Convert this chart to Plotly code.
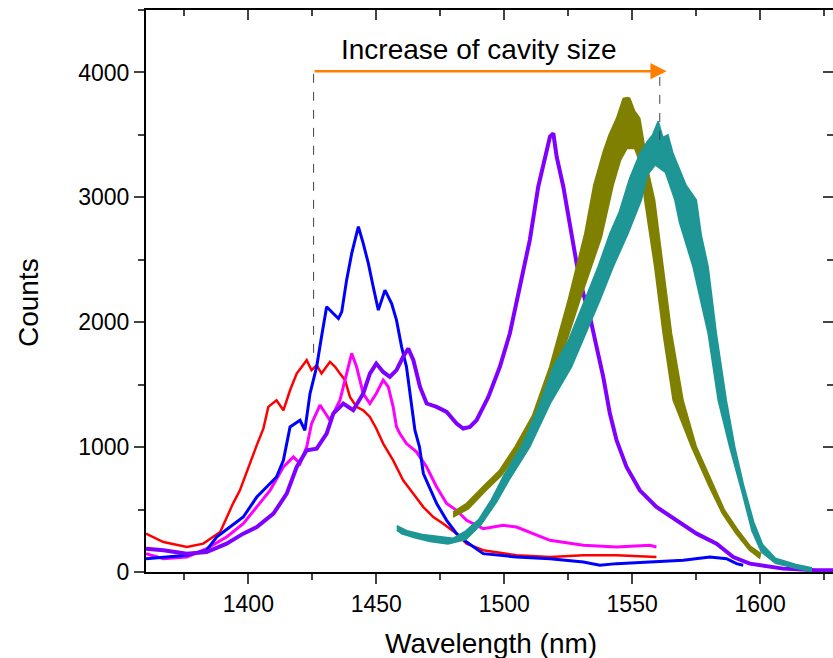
import plotly.graph_objects as go

# ---- data (wavelength nm, counts) ----
red_x = [1360, 1366.8, 1376, 1382.4, 1389, 1394, 1396.7, 1400, 1403, 1405.9, 1407.8, 1411, 1413.7, 1416.3, 1418.9,
         1422.8, 1424.7, 1426.7, 1428.6, 1431.9, 1433.9, 1435.8, 1437.8, 1439.7, 1442.3, 1444.9, 1447.5, 1450, 1452.7,
         1456.6, 1460.5, 1464.5, 1468.4, 1472.3, 1476.2, 1481.4, 1485.3, 1491.8, 1504.8, 1517.9, 1530.9, 1543.9, 1559.5]
red_y = [307, 240, 200, 227, 320, 548, 654, 840, 1000, 1149, 1322, 1375, 1295, 1455, 1589,
         1696, 1616, 1656, 1589, 1683, 1643, 1589, 1536, 1402, 1322, 1295, 1242, 1149, 1028,
         894, 734, 627, 520, 440, 387, 307, 227, 174, 134, 120, 134, 134, 120]

blue_x = [1360, 1366.8, 1376, 1383.7, 1387.6, 1392.8, 1398, 1403.3, 1407.2, 1411, 1413.7, 1416.3, 1420.2, 1422.1,
          1424.1, 1426.7, 1428.6, 1430.6, 1433.2, 1435.2, 1436.5, 1438.4, 1440.4, 1443, 1444.9, 1446.9, 1448.8, 1450.8,
          1453.4, 1456, 1457.9, 1459.9, 1461.8, 1463.8, 1465.1, 1466.9, 1468.4, 1473.6, 1477.5, 1481.4, 1485.3, 1491.8,
          1504.8, 1517.9, 1530.9, 1537.4, 1543.9, 1556.9, 1570, 1580.4, 1586.9, 1590.8, 1593.4]
blue_y = [107, 120, 134, 174, 280, 360, 440, 600, 681, 761, 894, 1161, 1215, 1135,
          1429, 1643, 1883, 2124, 2070, 2030, 2083, 2337, 2551, 2765, 2631, 2471, 2284, 2097,
          2257, 2150, 2017, 1803, 1643, 1322, 1135, 1000, 788, 548, 414, 307, 240, 147,
          120, 107, 80, 54, 67, 80, 94, 120, 107, 67, 54]

mag_x = [1360, 1366.8, 1376, 1383.7, 1391.5, 1398, 1403.3, 1408.5, 1413.7, 1417.6, 1420.2, 1422.8, 1424.7, 1428,
         1431.9, 1435.8, 1438.4, 1440.4, 1442.3, 1444.9, 1447.5, 1450, 1452.7, 1454.7, 1456.6, 1457.9, 1459.2,
         1461.8, 1465.7, 1469.7, 1473.6, 1477.5, 1481.4, 1485.3, 1491.8, 1499.6, 1504.8, 1511.4, 1517.9, 1530.9,
         1543.9, 1556.9, 1559.5]
mag_y = [147, 107, 120, 187, 280, 387, 521, 654, 841, 921, 868, 1001, 1188, 1336,
         1215, 1375, 1589, 1750, 1643, 1429, 1349, 1429, 1536, 1482, 1322, 1162, 1109,
         1028, 962, 841, 681, 548, 494, 414, 347, 374, 360, 307, 254, 214,
         200, 214, 200]

pur_x = [1360, 1366.8, 1376, 1383.7, 1391.5, 1398, 1403.3, 1409.8, 1415, 1418.9, 1422.8, 1426.7, 1430.6, 1433.2,
         1437.1, 1441, 1444.9, 1447.5, 1450, 1452.7, 1455.3, 1457.9, 1460.5, 1462.5, 1464.5, 1467.1, 1469.7,
         1473.6, 1477.5, 1481.4, 1484, 1486.6, 1489.2, 1493.8, 1498.3, 1502.2, 1506.1, 1510, 1513.3, 1515.3,
         1517.9, 1519.2, 1520.5, 1523.1, 1525.7, 1528.3, 1530.9, 1533.5, 1536.1, 1538.7, 1541.3, 1543.9, 1547.8,
         1553, 1559.5, 1567.3, 1575.2, 1583, 1589.5, 1596, 1609, 1622, 1630]
pur_y = [187, 174, 147, 160, 227, 307, 360, 467, 627, 841, 975, 988, 1108, 1269,
         1349, 1295, 1429, 1589, 1669, 1602, 1562, 1616, 1723, 1790, 1696, 1482, 1349,
         1322, 1282, 1189, 1149, 1162, 1215, 1402, 1643, 1910, 2284, 2658, 3085, 3272,
         3486, 3512, 3325, 3085, 2765, 2471, 2230, 2043, 1803, 1563, 1269, 1055, 841,
         654, 521, 414, 307, 227, 120, 67, 27, 14, 14]

# olive and teal are broad noisy bands: outer edge then inner edge
olv_out_x = [1480, 1485, 1492, 1498, 1504.2, 1511, 1517.8, 1525, 1531.5, 1535, 1538.7, 1541, 1543.9, 1546.5,
             1548.3, 1549.1, 1551, 1553, 1554.5, 1556, 1558.8, 1562.1, 1565.4, 1569.9, 1575.1, 1580.8, 1586,
             1591.2, 1596.3, 1600.2]
olv_out_y = [480, 545, 690, 810, 1002, 1250, 1643, 2177, 2711, 3098, 3365, 3500, 3632, 3793,
             3800, 3793, 3690, 3632, 3450, 3232, 2978, 2444, 1910, 1376, 1002, 740, 500,
             340, 205, 150]
olv_in_x = [1599.8, 1595.8, 1590.5, 1585.2, 1580, 1573.2, 1566, 1562.1, 1558.8, 1554.9, 1553.5, 1551, 1548,
            1545.5, 1542.6, 1538, 1529.6, 1521.1, 1506.1, 1499, 1492.5, 1486, 1480]
olv_in_y = [110, 175, 310, 470, 690, 1002, 1376, 1910, 2444, 2978, 3250, 3392, 3392,
            3300, 3098, 2680, 2177, 1643, 985, 775, 645, 505, 440]

teal_out_x = [1458, 1462, 1468, 1474, 1480, 1485, 1490, 1495, 1500, 1507, 1513, 1519.1, 1525, 1531.5, 1536.7,
              1541.3, 1545, 1549, 1553, 1556, 1558, 1560.2, 1562, 1564, 1566, 1568, 1571, 1575.1, 1577, 1579.7,
              1582.9, 1586.8, 1590.1, 1593.5, 1597.5, 1601, 1606, 1614, 1620]
teal_out_y = [370, 330, 300, 285, 270, 330, 420, 580, 780, 1020, 1300, 1643, 1850, 2177, 2444,
              2711, 2885, 3150, 3350, 3450, 3500, 3610, 3480, 3500, 3350, 3250, 3100, 2978, 2700, 2444,
              1910, 1376, 1002, 700, 400, 220, 110, 60, 35]
teal_in_x = [1620, 1614, 1606, 1600.5, 1596.8, 1592.8, 1588.1, 1583.6, 1579.7, 1573.8, 1568.5, 1566.7, 1563,
             1559, 1556, 1553.6, 1548.4, 1542.6, 1537.4, 1526.3, 1518, 1510, 1502, 1497, 1491, 1485, 1478,
             1471, 1465, 1460, 1458]
teal_in_y = [5, 30, 70, 160, 330, 650, 1002, 1376, 1910, 2444, 2800, 2978, 3200,
             3259, 3180, 2978, 2711, 2444, 2177, 1643, 1350, 1002, 740, 560, 380, 260, 225,
             245, 275, 305, 335]

x_ticks = [1400, 1450, 1500, 1550, 1600]
y_ticks = [0, 1000, 2000, 3000, 4000]

line_series = [
    (red_x, red_y, "#FF0000", 2.5),
    (mag_x, mag_y, "#FF00FF", 3),
    (blue_x, blue_y, "#0000FF", 3),
    (pur_x, pur_y, "#8000FF", 4),
]
band_series = [
    (olv_out_x, olv_out_y, olv_in_x, olv_in_y, "#808000"),
    (teal_out_x, teal_out_y, teal_in_x, teal_in_y, "#1E9696"),
]

fig = go.Figure()
for xs, ys, col, w in line_series:
    fig.add_trace(go.Scatter(x=xs, y=ys, mode="lines", line=dict(color=col, width=w),
                             showlegend=False, hoverinfo="skip"))
for ox, oy, ix, iy, col in band_series:
    fig.add_trace(go.Scatter(x=ox + ix, y=oy + iy, mode="lines", fill="toself", fillcolor=col,
                             line=dict(color=col, width=1.5), showlegend=False, hoverinfo="skip"))

font_family = "Liberation Sans, Arial, sans-serif"
XR = [1360, 1628.5]
YR = [0, 4500]

common = dict(showgrid=False, zeroline=False, automargin=False, tickwidth=1.5)
fig.update_layout(
    width=833, height=658,
    margin=dict(l=146, r=0, t=10, b=86),
    paper_bgcolor="white", plot_bgcolor="white",
    font=dict(family=font_family, color="black"),
    xaxis=dict(range=XR, tickvals=x_ticks, ticks="outside", ticklen=10,
               showline=True, linewidth=2, linecolor="black",
               tickfont=dict(size=23), minor=dict(dtick=25, tick0=1375, ticks="outside", ticklen=6, tickwidth=1.5),
               **common),
    yaxis=dict(range=YR, tickvals=y_ticks, ticks="outside", ticklen=10,
               showline=True, linewidth=2, linecolor="black",
               tickfont=dict(size=23), minor=dict(dtick=500, tick0=0, ticks="outside", ticklen=6, tickwidth=1.5),
               **common),
    xaxis2=dict(range=XR, overlaying="x", side="top", anchor="y", tickvals=x_ticks, ticks="inside",
                ticklen=10, showticklabels=False, showline=True, linewidth=2, linecolor="black",
                minor=dict(dtick=25, tick0=1375, ticks="inside", ticklen=6, tickwidth=1.5), **common),
    yaxis2=dict(range=YR, overlaying="y", side="right", anchor="x", tickvals=y_ticks, ticks="inside",
                ticklen=10, showticklabels=False, showline=False,
                minor=dict(dtick=500, tick0=0, ticks="inside", ticklen=6, tickwidth=1.5), **common),
)

fig.add_trace(go.Scatter(x=[XR[0]], y=[YR[0]], xaxis="x2", yaxis="y2", mode="markers",
                         marker=dict(opacity=0), showlegend=False, hoverinfo="skip"))

# axis titles
fig.add_annotation(text="Wavelength (nm)", xref="paper", yref="paper", x=0.502, y=-0.127,
                   xanchor="center", yanchor="middle", showarrow=False, font=dict(size=28))
fig.add_annotation(text="Counts", xref="paper", yref="paper", x=-0.172, y=0.48, textangle=-90,
                   xanchor="center", yanchor="middle", showarrow=False, font=dict(size=28))

# dashed guide lines
fig.add_shape(type="line", x0=1425.5, x1=1425.5, y0=1755, y1=4010, xref="x", yref="y",
              line=dict(color="#444444", width=1, dash="dash"))
fig.add_shape(type="line", x0=1560.8, x1=1560.8, y0=3460, y1=4010, xref="x", yref="y",
              line=dict(color="#444444", width=1, dash="dash"))

# orange arrow
fig.add_annotation(x=1563.5, y=4010, ax=1425.3, ay=4010, xref="x", yref="y", axref="x", ayref="y",
                   text="", showarrow=True, arrowhead=2, arrowsize=1.3, arrowwidth=2.5, arrowcolor="#FF8000")
fig.add_annotation(x=1490, y=4180, xref="x", yref="y", text="Increase of cavity size", showarrow=False,
                   font=dict(size=28, family=font_family, color="black"))

fig.write_html("out.html", config={"displayModeBar": False},
               post_script="document.body.style.margin='0';document.body.style.overflow='hidden';")
